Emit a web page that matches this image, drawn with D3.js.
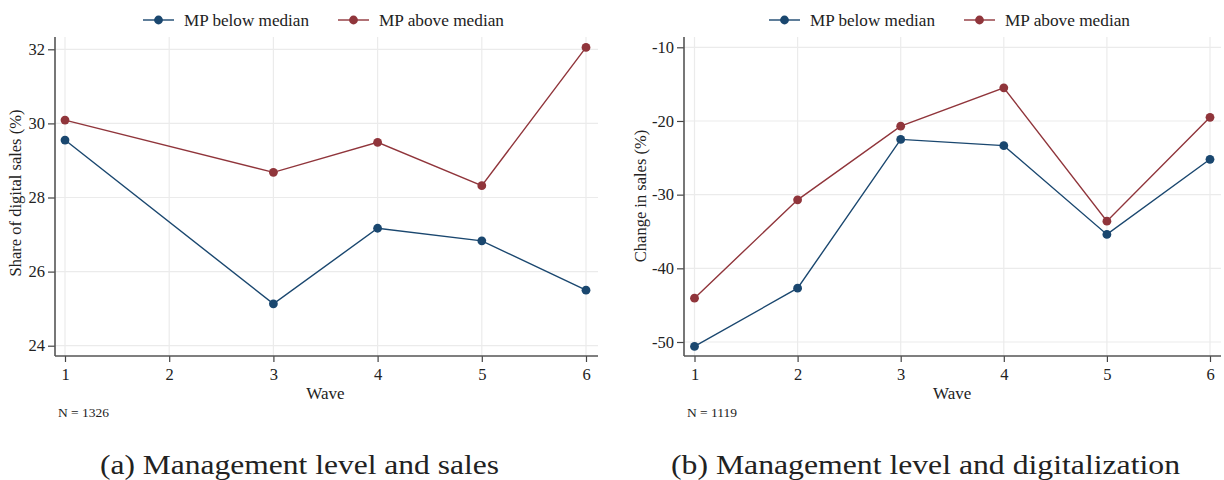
<!DOCTYPE html>
<html>
<head>
<meta charset="utf-8">
<script src="https://cdn.jsdelivr.net/npm/d3@7"></script>
<style>
  html, body { margin: 0; padding: 0; background: #fff; }
  svg { display: block; }
</style>
</head>
<body>
<svg id="chart" width="1224" height="480"></svg>
<script>
// Waves observed in each panel
const wavesSales = [1, 3, 4, 5, 6];
const wavesDigital = [1, 2, 3, 4, 5, 6];
const waveTicks = [1, 2, 3, 4, 5, 6];

// Panel (a): share of digital sales (%)
const salesBelow = [29.55, 25.13, 27.17, 26.83, 25.5];
const salesAbove = [30.09, 28.68, 29.49, 28.32, 32.05];
const salesTicks = [24, 26, 28, 30, 32];

// Panel (b): change in sales (%)
const digitalBelow = [-50.6, -42.7, -22.5, -23.35, -35.4, -25.2];
const digitalAbove = [-44.05, -30.7, -20.7, -15.5, -33.6, -19.5];
const digitalTicks = [-50, -40, -30, -20, -10];

const seriesNames = ["MP below median", "MP above median"];
const seriesColors = ["#1a476f", "#90353b"];

const FONT = '"Liberation Serif"';
const INK = "#222";

const svg = d3.select("#chart");

function label(sel) {
  return sel.style("font-family", FONT).attr("fill", INK);
}

function panel(cfg) {
  const g = svg.append("g");
  const x = d3.scaleLinear().domain([1, 6]).range(cfg.xRange);
  const y = d3.scaleLinear().domain(cfg.yDomain).range(cfg.yRange);
  const top = 37, bottom = 356;

  // grid
  g.selectAll(".hg").data(cfg.yTicks).join("line")
    .attr("x1", cfg.axisX).attr("x2", cfg.right)
    .attr("y1", d => y(d)).attr("y2", d => y(d))
    .attr("stroke", "#ebebeb").attr("stroke-width", 1.2);
  g.selectAll(".vg").data(waveTicks).join("line")
    .attr("x1", d => x(d)).attr("x2", d => x(d))
    .attr("y1", top).attr("y2", bottom)
    .attr("stroke", "#ebebeb").attr("stroke-width", 1.2);

  // y axis
  const yAxis = d3.axisLeft(y).tickValues(cfg.yTicks).tickSize(7).tickPadding(3)
    .tickFormat(d => d < 0 ? "-" + Math.abs(d) : String(d));
  const ya = g.append("g").attr("transform", `translate(${cfg.axisX},0)`).call(yAxis);
  ya.attr("font-family", null);
  ya.select(".domain").remove();
  ya.selectAll(".tick line").attr("stroke", "#444").attr("stroke-width", 1.2);
  label(ya.selectAll(".tick text")).attr("font-size", 16.5);

  // x axis
  const xAxis = d3.axisBottom(x).tickValues(waveTicks).tickSize(6).tickPadding(6)
    .tickFormat(d3.format("d"));
  const xa = g.append("g").attr("transform", `translate(0,${bottom})`).call(xAxis);
  xa.attr("font-family", null);
  xa.select(".domain").remove();
  xa.selectAll(".tick line").attr("stroke", "#444").attr("stroke-width", 1.2);
  label(xa.selectAll(".tick text")).attr("font-size", 16.5);

  // axis lines
  g.append("line").attr("x1", cfg.axisX).attr("x2", cfg.axisX)
    .attr("y1", top).attr("y2", bottom).attr("stroke", "#555").attr("stroke-width", 1.6);
  g.append("line").attr("x1", cfg.axisX).attr("x2", cfg.right)
    .attr("y1", bottom).attr("y2", bottom).attr("stroke", "#555").attr("stroke-width", 1.6);

  // series
  [cfg.below, cfg.above].forEach((vals, i) => {
    const pts = cfg.waves.map((w, j) => [w, vals[j]]);
    g.append("path").datum(pts)
      .attr("fill", "none").attr("stroke", seriesColors[i]).attr("stroke-width", 1.4)
      .attr("d", d3.line().x(d => x(d[0])).y(d => y(d[1])));
    g.selectAll(".pt" + i).data(pts).join("circle")
      .attr("cx", d => x(d[0])).attr("cy", d => y(d[1])).attr("r", 4.4)
      .attr("fill", seriesColors[i]);
  });

  // titles
  label(g.append("text")).attr("x", (cfg.xRange[0] + cfg.xRange[1]) / 2).attr("y", 399)
    .attr("text-anchor", "middle").attr("font-size", 17).text("Wave");
  label(g.append("text"))
    .attr("transform", `translate(${cfg.titleX},${cfg.titleY}) rotate(-90)`)
    .attr("text-anchor", "middle").attr("font-size", 16.5).text(cfg.yTitle);
  label(g.append("text")).attr("x", cfg.axisX + 3).attr("y", 417)
    .attr("font-size", 13.5).text(cfg.note);

  // legend
  const lg = g.append("g");
  seriesNames.forEach((name, i) => {
    const lx = cfg.legendX[i];
    lg.append("line").attr("x1", lx).attr("x2", lx + 31).attr("y1", 20).attr("y2", 20)
      .attr("stroke", seriesColors[i]).attr("stroke-width", 1.4);
    lg.append("circle").attr("cx", lx + 15.5).attr("cy", 20).attr("r", 4.4)
      .attr("fill", seriesColors[i]);
    label(lg.append("text")).attr("x", lx + 41).attr("y", 25.5).attr("font-size", 16.5)
      .attr("textLength", 125).attr("lengthAdjust", "spacingAndGlyphs").text(name);
  });

  // caption
  label(g.append("text")).attr("x", cfg.captionX).attr("y", 474).attr("font-size", 27)
    .attr("textLength", cfg.captionW).attr("lengthAdjust", "spacingAndGlyphs")
    .text(cfg.caption);
}

panel({
  waves: wavesSales, below: salesBelow, above: salesAbove,
  yDomain: [24, 32], yRange: [345.7, 49.3], yTicks: salesTicks,
  xRange: [65, 586], axisX: 55, right: 598,
  yTitle: "Share of digital sales (%)", titleX: 21, titleY: 193,
  note: "N = 1326", legendX: [143, 338],
  caption: "(a) Management level and sales", captionX: 100, captionW: 399
});

panel({
  waves: wavesDigital, below: digitalBelow, above: digitalAbove,
  yDomain: [-50, -10], yRange: [342, 47.3], yTicks: digitalTicks,
  xRange: [694.5, 1210], axisX: 684, right: 1221,
  yTitle: "Change in sales (%)", titleX: 646, titleY: 196,
  note: "N = 1119", legendX: [769, 964],
  caption: "(b) Management level and digitalization", captionX: 671, captionW: 509
});
</script>
</body>
</html>
